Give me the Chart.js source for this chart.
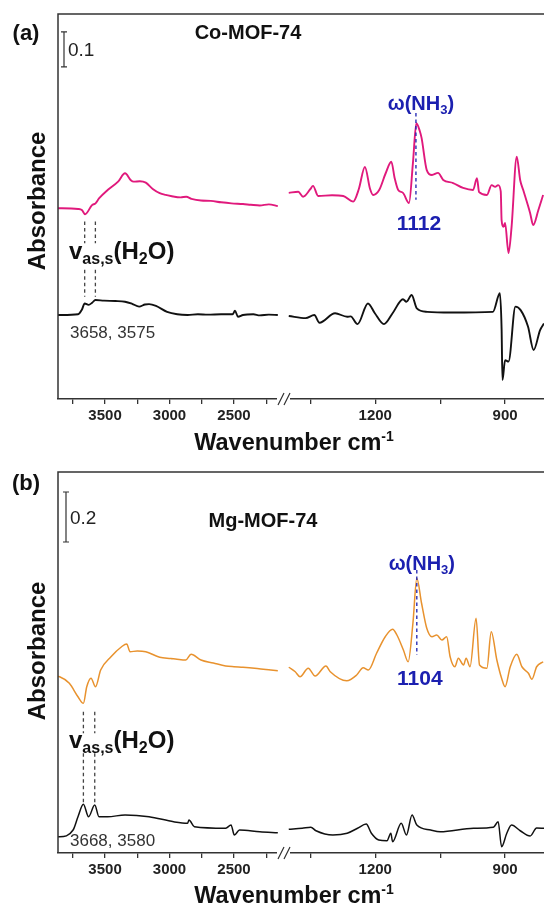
<!DOCTYPE html>
<html>
<head>
<meta charset="utf-8">
<script src="https://cdn.jsdelivr.net/npm/chart.js@4.4.1/dist/chart.umd.min.js"></script>
<style>
  html, body { margin: 0; padding: 0; background: #fff; overflow: hidden; }
  .panel { position: absolute; left: 0; width: 544px; }
  #panelA { top: 0; height: 453px; }
  #panelB { top: 453px; height: 454px; }
</style>
</head>
<body>
<div class="panel" id="panelA"><canvas id="chartA"></canvas></div>
<div class="panel" id="panelB"><canvas id="chartB"></canvas></div>
<script>
// broken wavenumber axis: tick marks and the ones that get a label
const leftTicks = [3750, 3500, 3250, 3000, 2750, 2500, 2250];
const leftTickLabels = [3500, 3000, 2500];
const rightTicks = [1350, 1200, 1050, 900];
const rightTickLabels = [1200, 900];

// (a) Co-MOF-74 with NH3 (pink), high-wavenumber piece
const coNh3LeftWn = [3865, 3835, 3709, 3680, 3655, 3601, 3574, 3547, 3480, 3399, 3345, 3300, 3278, 3230, 3184, 3130, 3076, 3030, 2990, 2914, 2870, 2830, 2756, 2680, 2600, 2520, 2430, 2370, 2300, 2230, 2160];
const coNh3LeftAbs = [0.545, 0.545, 0.543, 0.540, 0.528, 0.554, 0.559, 0.573, 0.597, 0.621, 0.645, 0.625, 0.621, 0.622, 0.618, 0.600, 0.588, 0.583, 0.580, 0.576, 0.578, 0.572, 0.567, 0.566, 0.562, 0.559, 0.557, 0.555, 0.553, 0.556, 0.551];
// (a) Co-MOF-74 with NH3 (pink), fingerprint piece
const coNh3RightWn = [1400, 1378, 1367, 1350, 1344, 1332, 1300, 1274, 1251, 1238, 1224, 1212, 1205, 1191, 1176, 1163, 1155, 1147, 1136, 1122, 1113, 1105, 1097, 1093, 1081, 1069, 1055, 1043, 1020, 997, 974, 965, 960, 942, 931, 923, 916, 910, 908, 904, 900, 892, 885, 873, 865, 858, 842, 835, 823, 812];
const coNh3RightAbs = [0.589, 0.592, 0.578, 0.600, 0.609, 0.580, 0.582, 0.580, 0.564, 0.600, 0.663, 0.600, 0.583, 0.597, 0.645, 0.678, 0.630, 0.597, 0.589, 0.560, 0.674, 0.788, 0.765, 0.746, 0.654, 0.640, 0.646, 0.626, 0.617, 0.603, 0.597, 0.631, 0.591, 0.583, 0.611, 0.606, 0.611, 0.593, 0.511, 0.492, 0.503, 0.417, 0.491, 0.692, 0.625, 0.597, 0.531, 0.497, 0.540, 0.583];
// (a) Co-MOF-74 reference (black)
const coRefLeftWn = [3865, 3833, 3709, 3680, 3658, 3628, 3600, 3575, 3508, 3420, 3345, 3290, 3236, 3190, 3159, 3105, 3019, 2940, 2860, 2780, 2702, 2600, 2511, 2492, 2469, 2430, 2350, 2300, 2230, 2160];
const coRefLeftAbs = [0.240, 0.240, 0.242, 0.255, 0.273, 0.269, 0.275, 0.283, 0.281, 0.280, 0.278, 0.272, 0.264, 0.270, 0.271, 0.266, 0.249, 0.242, 0.240, 0.242, 0.241, 0.242, 0.242, 0.252, 0.235, 0.240, 0.242, 0.239, 0.241, 0.240];
const coRefRightWn = [1400, 1361, 1341, 1329, 1293, 1265, 1257, 1241, 1217, 1201, 1180, 1160, 1136, 1128, 1116, 1104, 1080, 1024, 928, 912, 908, 906, 900, 892, 876, 864, 847, 834, 819, 810];
const coRefRightAbs = [0.237, 0.231, 0.240, 0.218, 0.245, 0.235, 0.236, 0.214, 0.273, 0.245, 0.214, 0.245, 0.285, 0.278, 0.297, 0.259, 0.249, 0.247, 0.249, 0.302, 0.200, 0.054, 0.111, 0.107, 0.264, 0.254, 0.207, 0.140, 0.197, 0.216];

// (b) Mg-MOF-74 with NH3 (orange)
const mgNh3LeftWn = [3865, 3852, 3777, 3710, 3668, 3642, 3609, 3574, 3534, 3454, 3372, 3332, 3306, 3250, 3184, 3076, 2990, 2942, 2874, 2833, 2756, 2660, 2564, 2500, 2430, 2320, 2214, 2160];
const mgNh3LeftAbs = [0.706, 0.705, 0.679, 0.625, 0.599, 0.665, 0.699, 0.665, 0.732, 0.785, 0.825, 0.836, 0.805, 0.808, 0.805, 0.783, 0.778, 0.775, 0.772, 0.795, 0.772, 0.760, 0.748, 0.745, 0.743, 0.738, 0.732, 0.729];
const mgNh3RightWn = [1400, 1385, 1374, 1355, 1339, 1314, 1304, 1266, 1243, 1228, 1216, 1197, 1177, 1160, 1150, 1135, 1124, 1113, 1104, 1093, 1081, 1069, 1058, 1046, 1035, 1027, 1016, 1008, 996, 990, 981, 967, 959, 942, 932, 919, 908, 900, 888, 873, 861, 846, 838, 827, 812];
const mgNh3RightAbs = [0.743, 0.725, 0.705, 0.739, 0.708, 0.748, 0.725, 0.689, 0.712, 0.741, 0.732, 0.799, 0.865, 0.895, 0.872, 0.812, 0.765, 0.919, 1.099, 0.999, 0.899, 0.865, 0.872, 0.852, 0.865, 0.785, 0.745, 0.779, 0.752, 0.779, 0.745, 0.939, 0.752, 0.739, 0.885, 0.772, 0.699, 0.665, 0.745, 0.795, 0.745, 0.719, 0.695, 0.745, 0.765];
// (b) Mg-MOF-74 reference (black)
const mgRefLeftWn = [3865, 3852, 3748, 3710, 3668, 3628, 3580, 3547, 3480, 3345, 3159, 2968, 2860, 2849, 2807, 2564, 2523, 2497, 2457, 2300, 2160];
const mgRefLeftAbs = [0.065, 0.065, 0.092, 0.145, 0.195, 0.145, 0.192, 0.145, 0.145, 0.152, 0.145, 0.125, 0.119, 0.132, 0.105, 0.099, 0.112, 0.072, 0.092, 0.085, 0.081];
const mgRefRightWn = [1400, 1369, 1349, 1337, 1298, 1265, 1241, 1221, 1209, 1192, 1173, 1164, 1160, 1140, 1128, 1115, 1104, 1072, 1050, 973, 927, 916, 908, 896, 885, 865, 842, 827, 810];
const mgRefRightAbs = [0.095, 0.099, 0.103, 0.089, 0.072, 0.079, 0.099, 0.116, 0.079, 0.052, 0.049, 0.079, 0.045, 0.119, 0.072, 0.152, 0.112, 0.092, 0.085, 0.099, 0.103, 0.125, 0.025, 0.079, 0.112, 0.089, 0.068, 0.100, 0.099];

const FONT = "Arial, 'Liberation Sans', sans-serif";
const BLUE = "#1c20b0";

function xy(xs, ys) {
  return xs.map((x, i) => ({ x, y: ys[i] }));
}

function rich(ctx, parts, x, y, align, color) {
  let w = 0;
  parts.forEach((p) => {
    ctx.font = `${p.weight || "bold"} ${p.size}px ${FONT}`;
    w += ctx.measureText(p.t).width;
  });
  let cx = align === "center" ? x - w / 2 : x;
  ctx.fillStyle = color;
  ctx.textAlign = "left";
  ctx.textBaseline = "alphabetic";
  parts.forEach((p) => {
    ctx.font = `${p.weight || "bold"} ${p.size}px ${FONT}`;
    ctx.fillText(p.t, cx, y + (p.dy || 0));
    cx += ctx.measureText(p.t).width;
  });
}

function dashed(ctx, x, y1, y2, color) {
  ctx.save();
  ctx.strokeStyle = color;
  ctx.lineWidth = 1.3;
  ctx.setLineDash([3.5, 3]);
  ctx.beginPath();
  ctx.moveTo(x, y1);
  ctx.lineTo(x, y2);
  ctx.stroke();
  ctx.restore();
}

// frame, axis break and all the labels drawn on top of the panel
const panelNotes = {
  id: "panelNotes",
  afterDraw(chart) {
    const n = chart.options.plugins.panelNotes;
    const { ctx, chartArea: a, scales } = chart;
    const xl = scales.xl, xr = scales.xr, y = scales.y;
    ctx.save();

    // left and top frame lines
    ctx.strokeStyle = "#333";
    ctx.lineWidth = 1.5;
    ctx.beginPath();
    ctx.moveTo(a.left, a.bottom);
    ctx.lineTo(a.left, a.top);
    ctx.lineTo(a.right, a.top);
    ctx.stroke();

    // axis break "//"
    ctx.fillStyle = "#fff";
    ctx.fillRect(277, a.bottom - 3, 13, 6);
    ctx.strokeStyle = "#333";
    ctx.lineWidth = 1.2;
    ctx.beginPath();
    ctx.moveTo(278, a.bottom + 6);
    ctx.lineTo(284, a.bottom - 6);
    ctx.moveTo(284, a.bottom + 6);
    ctx.lineTo(290, a.bottom - 6);
    ctx.stroke();

    // scale bar
    const sbTop = y.getPixelForValue(n.bar[1]);
    const sbBot = y.getPixelForValue(n.bar[0]);
    ctx.lineWidth = 1.2;
    ctx.strokeStyle = "#333";
    ctx.beginPath();
    ctx.moveTo(n.barX, sbTop);
    ctx.lineTo(n.barX, sbBot);
    ctx.moveTo(n.barX - 3, sbTop);
    ctx.lineTo(n.barX + 3, sbTop);
    ctx.moveTo(n.barX - 3, sbBot);
    ctx.lineTo(n.barX + 3, sbBot);
    ctx.stroke();
    rich(ctx, [{ t: n.barText, size: 19, weight: "normal" }], n.barX + 4, (sbTop + sbBot) / 2 + 7, "left", "#222");

    // panel letter and title
    rich(ctx, [{ t: n.letter, size: 22 }], 26, n.letterY + 8, "center", "#111");
    rich(ctx, [{ t: n.title, size: 20 }], n.titleX, n.titleY + 7, "center", "#111");

    // water bands
    n.waterWn.forEach((w) => {
      const px = xl.getPixelForValue(w);
      n.waterSegs.forEach((s) => dashed(ctx, px, y.getPixelForValue(s[0]), y.getPixelForValue(s[1]), "#444"));
    });
    rich(ctx, [
      { t: "v", size: 24 },
      { t: "as,s", size: 16, dy: 5 },
      { t: "(H", size: 24 },
      { t: "2", size: 16, dy: 5 },
      { t: "O)", size: 24 }
    ], 69, n.waterTextY, "left", "#111");
    rich(ctx, [{ t: n.waterLabel, size: 17, weight: "normal" }], 70, n.waterLabelY + 6, "left", "#333");

    // NH3 wagging band
    const nx = xr.getPixelForValue(n.nh3Wn);
    dashed(ctx, nx, y.getPixelForValue(n.nh3Seg[0]), y.getPixelForValue(n.nh3Seg[1]), BLUE);
    rich(ctx, [
      { t: "\u03c9(NH", size: 20 },
      { t: "3", size: 13, dy: 4 },
      { t: ")", size: 20 }
    ], nx + 5, n.nh3TextY, "center", BLUE);
    rich(ctx, [{ t: n.nh3Label, size: 21 }], nx + 3, n.nh3LabelY + 8, "center", BLUE);

    // axis titles
    rich(ctx, [
      { t: "Wavenumber cm", size: 23.5 },
      { t: "-1", size: 14, dy: -9 }
    ], 294, n.xTitleY + 8, "center", "#111");
    ctx.save();
    ctx.translate(38, n.yTitleY);
    ctx.rotate(-Math.PI / 2);
    ctx.font = `bold 24px ${FONT}`;
    ctx.fillStyle = "#111";
    ctx.textAlign = "center";
    ctx.textBaseline = "middle";
    ctx.fillText("Absorbance", 0, 0);
    ctx.restore();

    ctx.restore();
  }
};

function wnAxis(ticks, labels, min, max, weight) {
  return {
    type: "linear",
    position: "bottom",
    stack: "wn",
    stackWeight: weight,
    reverse: true,
    min: min,
    max: max,
    afterBuildTicks: (s) => {
      s.ticks = ticks.map((v) => ({ value: v }));
    },
    afterFit: (s) => {
      s.height = 54;
    },
    grid: { drawOnChartArea: false, drawTicks: true, tickLength: 5, color: "#333", lineWidth: 1.3 },
    border: { color: "#333", width: 1.5 },
    ticks: {
      autoSkip: false,
      maxRotation: 0,
      padding: 3,
      color: "#222",
      font: { family: FONT, size: 15, weight: "bold" },
      callback: (v) => (labels.includes(v) ? String(v) : "")
    }
  };
}

function makePanel(id, p) {
  const line = (data, axis, color, width) => ({
    data: data,
    xAxisID: axis,
    borderColor: color,
    borderWidth: width,
    pointRadius: 0,
    cubicInterpolationMode: "monotone",
    fill: false
  });
  new Chart(document.getElementById(id), {
    type: "line",
    data: {
      datasets: [
        line(xy(p.nh3[0], p.nh3[1]), "xl", p.color, p.width),
        line(xy(p.nh3[2], p.nh3[3]), "xr", p.color, p.width),
        line(xy(p.ref[0], p.ref[1]), "xl", "#111", p.width),
        line(xy(p.ref[2], p.ref[3]), "xr", "#111", p.width)
      ]
    },
    options: {
      responsive: true,
      maintainAspectRatio: false,
      animation: false,
      layout: { padding: { top: p.top, left: 58, right: 0, bottom: 0 } },
      plugins: {
        legend: { display: false },
        tooltip: { enabled: false },
        panelNotes: p.notes
      },
      scales: {
        xl: wnAxis(leftTicks, leftTickLabels, 2112, 3865, 226),
        xr: wnAxis(rightTicks, rightTickLabels, 810, 1411, 260),
        y: { display: false, min: 0, max: p.ymax }
      }
    },
    plugins: [panelNotes]
  });
}

makePanel("chartA", {
  top: 14,
  ymax: 1.1,
  color: "#e0197c",
  width: 1.9,
  nh3: [coNh3LeftWn, coNh3LeftAbs, coNh3RightWn, coNh3RightAbs],
  ref: [coRefLeftWn, coRefLeftAbs, coRefRightWn, coRefRightAbs],
  notes: {
    letter: "(a)", letterY: 32,
    title: "Co-MOF-74", titleX: 248, titleY: 32,
    barX: 64, bar: [0.949, 1.049], barText: "0.1",
    waterWn: [3658, 3575], waterSegs: [[0.507, 0.445], [0.369, 0.292]],
    waterTextY: 259, waterLabel: "3658, 3575", waterLabelY: 332,
    nh3Wn: 1106, nh3Seg: [0.817, 0.569], nh3TextY: 110, nh3Label: "1112", nh3LabelY: 222,
    xTitleY: 442, yTitleY: 201
  }
});

makePanel("chartB", {
  top: 19,
  ymax: 1.524,
  color: "#e8922e",
  width: 1.5,
  nh3: [mgNh3LeftWn, mgNh3LeftAbs, mgNh3RightWn, mgNh3RightAbs],
  ref: [mgRefLeftWn, mgRefLeftAbs, mgRefRightWn, mgRefRightAbs],
  notes: {
    letter: "(b)", letterY: 29,
    title: "Mg-MOF-74", titleX: 263, titleY: 67,
    barX: 66, bar: [1.244, 1.444], barText: "0.2",
    waterWn: [3668, 3580], waterSegs: [[0.565, 0.479], [0.399, 0.199]],
    waterTextY: 295, waterLabel: "3668, 3580", waterLabelY: 387,
    nh3Wn: 1104, nh3Seg: [1.132, 0.792], nh3TextY: 117, nh3Label: "1104", nh3LabelY: 224,
    xTitleY: 442, yTitleY: 198
  }
});
</script>
</body>
</html>
